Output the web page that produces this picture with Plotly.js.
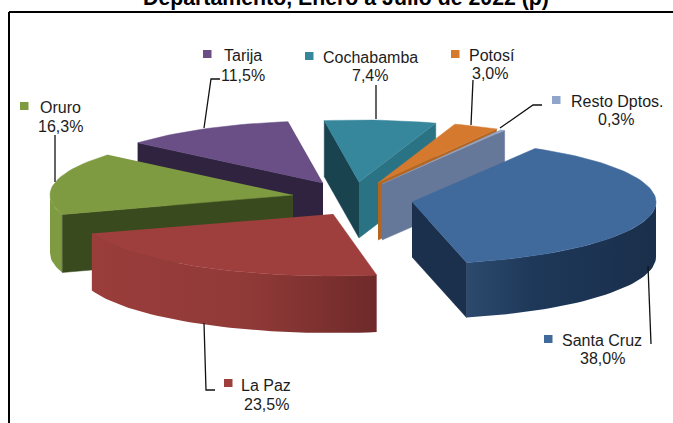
<!DOCTYPE html>
<html>
<head>
<meta charset="utf-8">
<script src="https://cdn.plot.ly/plotly-3.0.1.min.js"></script>
<style>html,body{margin:0;padding:0;background:#fff;overflow:hidden}</style>
</head>
<body>
<div id="chart" style="width:673px;height:423px"></div>
<script>
// ---- data ----
const names  = ['Santa Cruz', 'La Paz', 'Oruro', 'Tarija', 'Cochabamba', 'Potosí', 'Resto Dptos.'];
const shares = [38.0, 23.5, 16.3, 11.5, 7.4, 3.0, 0.3];
const titleText = 'Departamento, Enero a Julio de 2022 (p)';

// ---- 3D look of the exploded pie (pixels) ----
const startAngle = -59.7;
const centreX = [412, 333, 293, 323, 359, 378, 382];
const centreY = [202, 214, 195, 183, 182, 183, 184];
const radiusX = [244, 254, 243, 243, 243, 243, 243];
const radiusY = [62, 62, 62, 62, 62, 62, 62];
const depth   = [55, 57, 58, 56, 56, 57, 56];
const nudge0  = [0, 3, 0, 0, 0, 0, 0];
const topCol  = ['#40699c', '#9e3f3d', '#7f9b41', '#694f85', '#36879c', '#d4792d', '#8fa5c9'];
const wallCol = [
  [[0, '#2c4a6e'], [0.35, '#1e3859'], [1, '#1a2f4b']],
  [[0, '#9a3d3b'], [0.55, '#903a38'], [1, '#6e2a29']],
  [[0, '#7f9b41'], [1, '#7f9b41']],
  [[0, '#4a3860'], [1, '#4a3860']],
  [[0, '#2a7385'], [1, '#2a7385']],
  [[0, '#b5651f'], [1, '#b5651f']],
  [[0, '#66789a'], [1, '#66789a']]
];
const faceStart = ['#1a304c', '#6e2a29', '#3a4a1f', '#2f2340', '#1a4350', '#a85f20', '#66789a'];
const faceEnd   = ['#1a304c', '#6e2a29', '#3a4a1f', '#2f2340', '#2a7385', '#b5651f', '#66789a'];
const drawOrder = [3, 4, 2, 5, 6, 1, 0];

// ---- label placement (pixels) ----
const keyBox   = [[544,335],[224,379],[20,102],[203,50],[305,52],[451,50],[552,96]];
const nameAt   = [[602,340],[266,385],[60,107],[243,55],[370,57],[492,55],[617,101]];
const valueAt  = [[602,358],[266,404],[60,126],[243,75],[370,75],[490,73],[616,119]];
const leaders  = [
  [[648,266],[651,344]],
  [[204,323],[206,390],[215,390]],
  [[55,182],[55,135]],
  [[204,128],[211,79],[220,79]],
  [[376,119],[376,85]],
  [[471,125],[473,80]],
  [[500,128],[533,105],[542,105]]
];

const rad = d => d * Math.PI / 180;
const total = shares.reduce((a, b) => a + b, 0);
let run = startAngle;
const bounds = shares.map((s, i) => {
  const t0 = run + nudge0[i];
  run += s / total * 360;
  return [t0, run];
});

function pt(i, t, drop) {
  return [centreX[i] + radiusX[i] * Math.cos(rad(t)),
          centreY[i] + radiusY[i] * Math.sin(rad(t)) + (drop || 0)];
}
function poly(points, color, gradient) {
  const tr = {
    type: 'scatter', mode: 'lines', fill: 'toself', hoverinfo: 'skip',
    x: points.map(p => p[0]), y: points.map(p => p[1]),
    line: {width: 0.5, color: color}, fillcolor: color, showlegend: false
  };
  if (gradient) {
    tr.fillgradient = {type: 'horizontal', colorscale: gradient};
    tr.line = {width: 0};
  }
  return tr;
}
function arc(i, a, b, drop) {
  const out = [];
  const n = Math.max(2, Math.ceil(Math.abs(b - a) / 2));
  for (let k = 0; k <= n; k++) out.push(pt(i, a + (b - a) * k / n, drop));
  return out;
}
const traces = [];
drawOrder.forEach(i => {
  const [t0, t1] = bounds[i];
  const c = [centreX[i], centreY[i]];
  const cLow = [c[0], c[1] + depth[i]];
  const lo = Math.max(t0, 0), hi = Math.min(t1, 180);
  if (hi > lo) {
    traces.push(poly(arc(i, lo, hi, 0).concat(arc(i, hi, lo, depth[i])), wallCol[i][0][1], wallCol[i]));
  }
  if (Math.cos(rad(t0)) < 0) {
    traces.push(poly([c, pt(i, t0), pt(i, t0, depth[i]), cLow], faceStart[i]));
  }
  if (Math.cos(rad(t1)) > 0) {
    traces.push(poly([c, pt(i, t1), pt(i, t1, depth[i]), cLow], faceEnd[i]));
  }
  traces.push(poly([c].concat(arc(i, t0, t1, 0)), topCol[i]));
});

const font = {family: 'Liberation Sans, Arial, sans-serif', size: 16, color: '#1c1c1c'};
const annotations = [];
names.forEach((n, i) => {
  annotations.push({xref: 'x', yref: 'y', x: nameAt[i][0], y: nameAt[i][1], text: n,
    showarrow: false, font: font, xanchor: 'center', yanchor: 'middle'});
  annotations.push({xref: 'x', yref: 'y', x: valueAt[i][0], y: valueAt[i][1],
    text: shares[i].toFixed(1).replace('.', ',') + '%',
    showarrow: false, font: font, xanchor: 'center', yanchor: 'middle'});
});
annotations.push({xref: 'paper', yref: 'paper', x: 346 / 673, y: 1, yshift: 2, text: '<b>' + titleText + '</b>',
  showarrow: false, xanchor: 'center', yanchor: 'middle',
  font: {family: 'Liberation Sans, Arial, sans-serif', size: 21.3, color: '#000'}});

const shapes = [
  {type: 'line', xref: 'x', yref: 'y', x0: 9, y0: 12, x1: 673, y1: 12, line: {color: '#000', width: 2}},
  {type: 'line', xref: 'x', yref: 'y', x0: 9, y0: 12, x1: 9, y1: 423, line: {color: '#000', width: 2}}
];
names.forEach((n, i) => {
  const [kx, ky] = keyBox[i];
  shapes.push({type: 'rect', xref: 'x', yref: 'y', x0: kx, y0: ky, x1: kx + 8.5, y1: ky + 8,
    fillcolor: topCol[i], line: {width: 0}});
  const path = leaders[i].map((p, k) => (k ? 'L' : 'M') + p[0] + ',' + p[1]).join(' ');
  shapes.push({type: 'path', xref: 'x', yref: 'y', path: path, line: {color: '#111', width: 1.3}});
});

Plotly.newPlot('chart', traces, {
  width: 673, height: 423,
  margin: {l: 0, r: 0, t: 0, b: 0},
  paper_bgcolor: '#fff', plot_bgcolor: '#fff',
  showlegend: false,
  xaxis: {range: [0, 673], visible: false, fixedrange: true},
  yaxis: {range: [423, 0], visible: false, fixedrange: true},
  shapes: shapes,
  annotations: annotations
}, {displayModeBar: false, staticPlot: true});
</script>
</body>
</html>
